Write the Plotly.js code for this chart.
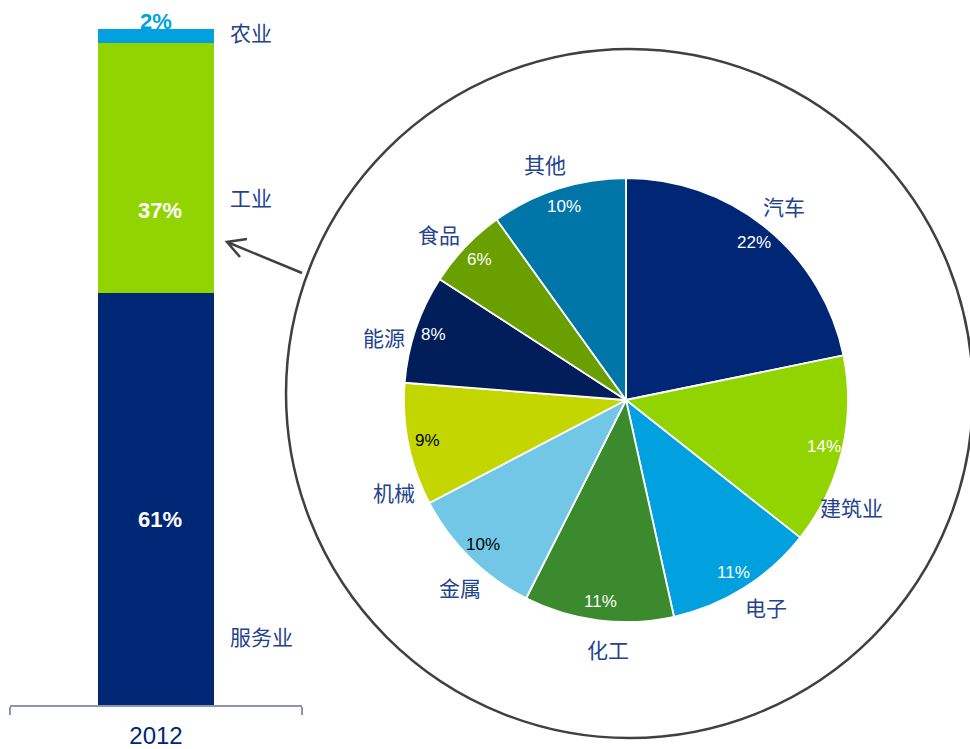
<!DOCTYPE html>
<html>
<head>
<meta charset="utf-8">
<script src="https://cdn.plot.ly/plotly-3.0.1.min.js"></script>
<style>html,body{margin:0;padding:0;background:#fff;}#chart{width:970px;height:749px;}</style>
</head>
<body>
<div id="chart"></div>
<script>
// ---- Data ----
const barYear = ['2012'];
const sectorNames = ['服务业', '工业', '农业'];
const sectorValues = [61, 37, 2];
const sectorColors = ['#002776', '#92D400', '#00A1DE'];

const industryNames = ['汽车', '建筑业', '电子', '化工', '金属', '机械', '能源', '食品', '其他'];
const industryValues = [22, 14, 11, 11, 10, 9, 8, 6, 10];
const industryColors = ['#002776', '#92D400', '#00A1DE', '#3C8A2E', '#72C7E7', '#C4D600', '#011E5B', '#6A9F00', '#0076A8'];
const industryTextColors = ['#ffffff', '#ffffff', '#ffffff', '#ffffff', '#000000', '#000000', '#ffffff', '#ffffff', '#ffffff'];
const labelAngleNudge = [0, 12, -2, -3, -3, -10, -4, -2, -1];

// ---- Geometry helpers ----
const W = 970, H = 749;
const px = (x) => x / W;
const py = (y) => (H - y) / H;
const CJK = '"Noto Sans CJK SC", "Noto Sans", sans-serif';
const LAT = 'Arial, "Liberation Sans", sans-serif';
const labelColor = '#24438E';

// pie placement
const pieCx = 626, pieCy = 400, pieR = 222;

const traces = [];
sectorNames.forEach((n, i) => {
  traces.push({
    type: 'bar', x: barYear, y: [sectorValues[i]], name: n,
    marker: {color: sectorColors[i], line: {width: 0}},
    xaxis: 'x', yaxis: 'y', hoverinfo: 'none', showlegend: false
  });
});
traces.push({
  type: 'pie', labels: industryNames, values: industryValues,
  sort: false, direction: 'clockwise', rotation: 0,
  marker: {colors: industryColors, line: {color: '#ffffff', width: 1.8}},
  textinfo: 'none', hoverinfo: 'none', showlegend: false,
  domain: {x: [px(pieCx - pieR), px(pieCx + pieR)], y: [py(pieCy + pieR), py(pieCy - pieR)]}
});

const annotations = [];
// bar segment labels
let base = 0;
const barLabelFrac = [0.45, 0.33];
sectorValues.forEach((v, i) => {
  if (i < 2) {
    annotations.push({x: 0, y: base + v * barLabelFrac[i], xref: 'x', yref: 'y', text: '<b>' + v + '%</b>',
      xanchor: 'center', yanchor: 'middle',
      showarrow: false, font: {family: LAT, size: 22, color: '#ffffff'}, xshift: 4});
  } else {
    annotations.push({x: 0, y: base + v, xref: 'x', yref: 'y', text: '<b>' + v + '%</b>',
      xanchor: 'center', yanchor: 'bottom', yshift: -7,
      showarrow: false, font: {family: LAT, size: 22, color: '#00A1DE'}});
  }
  base += v;
});
// sector names beside the bar
const sectorLabelY = [636, 197, 32];
sectorNames.forEach((n, i) => {
  annotations.push({x: px(228), y: py(sectorLabelY[i]), xref: 'paper', yref: 'paper', text: n,
    xanchor: 'left', yanchor: 'middle', showarrow: false, font: {family: CJK, size: 21, color: labelColor}});
});
// pie labels, positioned from the data
const total = industryValues.reduce((a, b) => a + b, 0);
let cum = 0;
industryValues.forEach((v, i) => {
  const mid = (cum + v / 2) / total * 2 * Math.PI;
  cum += v;
  const rp = pieR * 0.915;
  annotations.push({x: px(pieCx + rp * Math.sin(mid)), y: py(pieCy - rp * Math.cos(mid)),
    xref: 'paper', yref: 'paper', xanchor: 'center', yanchor: 'middle', text: v + '%', showarrow: false,
    font: {family: LAT, size: 17, color: industryTextColors[i]}});
  const la = mid + labelAngleNudge[i] * Math.PI / 180;
  const rl = pieR * 1.125;
  annotations.push({x: px(pieCx + rl * Math.sin(la)), y: py(pieCy - rl * Math.cos(la)),
    xref: 'paper', yref: 'paper', xanchor: 'center', yanchor: 'middle', text: industryNames[i], showarrow: false,
    font: {family: CJK, size: 21, color: labelColor}});
});

const arrowPath = 'M' + px(302) + ',' + py(273) + ' L' + px(227) + ',' + py(242) +
  ' M' + px(247) + ',' + py(239) + ' L' + px(227) + ',' + py(242) + ' L' + px(240) + ',' + py(257);

const layout = {
  width: W, height: H,
  margin: {l: 0, r: 0, t: 0, b: 0, pad: 0},
  paper_bgcolor: '#ffffff', plot_bgcolor: 'rgba(0,0,0,0)',
  barmode: 'stack', bargap: 0.6,
  xaxis: {domain: [px(10), px(302)], type: 'category', range: [-0.5, 0.5],
    showline: true, linecolor: '#8C95AB', linewidth: 2,
    ticks: 'outside', tickson: 'boundaries', ticklen: 8, tickwidth: 2, tickcolor: '#8C95AB',
    tickfont: {family: LAT, size: 24, color: '#002776'}, ticklabelstandoff: 8,
    showgrid: false, zeroline: false, fixedrange: true},
  yaxis: {domain: [py(705), py(29)], range: [0, 100], visible: false, showgrid: false, zeroline: false},
  shapes: [
    {type: 'circle', xref: 'paper', yref: 'paper', x0: px(286), x1: px(973), y0: py(738), y1: py(49),
      line: {color: '#404040', width: 2.5}},
    {type: 'path', xref: 'paper', yref: 'paper', path: arrowPath, line: {color: '#404040', width: 2.5}}
  ],
  annotations: annotations
};

Plotly.newPlot('chart', traces, layout, {displayModeBar: false, staticPlot: true});
</script>
</body>
</html>
